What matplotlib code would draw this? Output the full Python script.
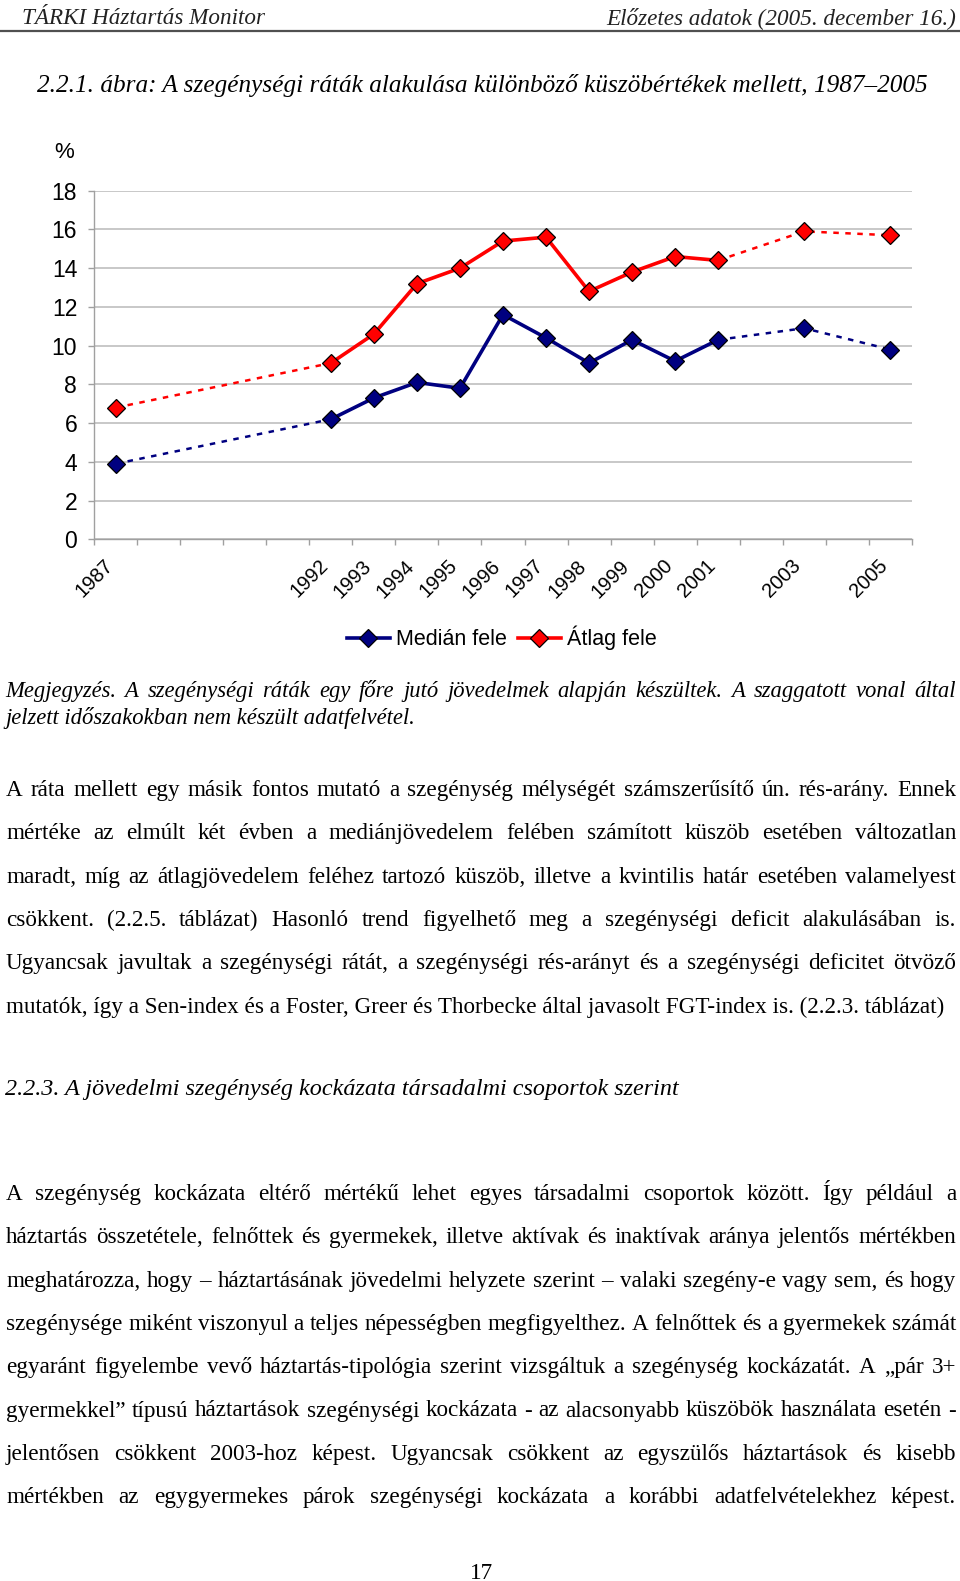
import matplotlib
matplotlib.use("Agg")
import matplotlib.pyplot as plt
from matplotlib.lines import Line2D
from matplotlib.transforms import ScaledTranslation
import numpy as np

W, H, DPI = 960, 1581, 100

# ---------------- data ----------------
years = [1987, 1992, 1993, 1994, 1995, 1996, 1997, 1998, 1999, 2000, 2001, 2003, 2005]
year_labels = [str(y) for y in years]
median_half = [3.9, 6.2, 7.3, 8.1, 7.8, 11.6, 10.4, 9.1, 10.3, 9.2, 10.3, 10.9, 9.8]
mean_half = [6.8, 9.1, 10.6, 13.2, 14.0, 15.4, 15.6, 12.8, 13.8, 14.6, 14.4, 15.9, 15.7]
series_names = ["Medián fele", "Átlag fele"]
series_colors = ["#000080", "#ff0000"]
y_ticks = list(range(0, 20, 2))
solid_from, solid_to = 1992, 2001   # yearly surveys (solid line)

header_left = "TÁRKI Háztartás Monitor"
header_right = "Előzetes adatok (2005. december 16.)"
fig_title = "2.2.1. ábra: A szegénységi ráták alakulása különböző küszöbértékek mellett, 1987–2005"
note_lines = [
    "Megjegyzés. A szegénységi ráták egy főre jutó jövedelmek alapján készültek. A szaggatott vonal által",
    "jelzett időszakokban nem készült adatfelvétel.",
]
para1 = [
    "A ráta mellett egy másik fontos mutató a szegénység mélységét számszerűsítő ún. rés-arány. Ennek",
    "mértéke az elmúlt két évben a mediánjövedelem felében számított küszöb esetében változatlan",
    "maradt, míg az átlagjövedelem feléhez tartozó küszöb, illetve a kvintilis határ esetében valamelyest",
    "csökkent. (2.2.5. táblázat) Hasonló trend figyelhető meg a szegénységi deficit alakulásában is.",
    "Ugyancsak javultak a szegénységi rátát, a szegénységi rés-arányt és a szegénységi deficitet ötvöző",
    "mutatók, így a Sen-index és a Foster, Greer és Thorbecke által javasolt FGT-index is. (2.2.3. táblázat)",
]
section_title = "2.2.3. A jövedelmi szegénység kockázata társadalmi csoportok szerint"
para2 = [
    "A szegénység kockázata eltérő mértékű lehet egyes társadalmi csoportok között. Így például a",
    "háztartás összetétele, felnőttek és gyermekek, illetve aktívak és inaktívak aránya jelentős mértékben",
    "meghatározza, hogy – háztartásának jövedelmi helyzete szerint – valaki szegény-e vagy sem, és hogy",
    "szegénysége miként viszonyul a teljes népességben megfigyelthez. A felnőttek és a gyermekek számát",
    "egyaránt figyelembe vevő háztartás-tipológia szerint vizsgáltuk a szegénység kockázatát. A „pár 3+",
    "gyermekkel” típusú háztartások szegénységi kockázata - az alacsonyabb küszöbök használata esetén -",
    "jelentősen csökkent 2003-hoz képest. Ugyancsak csökkent az egyszülős háztartások és kisebb",
    "mértékben az egygyermekes párok szegénységi kockázata a korábbi adatfelvételekhez képest.",
]
page_number = "17"

# ---------------- figure ----------------
fig = plt.figure(figsize=(W / DPI, H / DPI), dpi=DPI)
fig.patch.set_facecolor("white")
renderer = fig.canvas.get_renderer()


def fx(x):
    return x / W


def fy(y):
    return 1 - y / H


def measure(s, **kw):
    t = fig.text(0, 0, s, **kw)
    w = t.get_window_extent(renderer=renderer).width
    t.remove()
    return w


def fit(s, target, **kw):
    return 20.0 * target / measure(s, fontsize=20, **kw)


def put(s, x0, y, x1=None, justify=False, ha="left", **kw):
    if justify:
        words = s.split(" ")
        ws = [measure(w, **kw) for w in words]
        gap = (x1 - x0 - sum(ws)) / (len(words) - 1)
        x = x0
        for w, wd in zip(words, ws):
            fig.text(fx(x), fy(y), w, ha="left", va="baseline", **kw)
            x += wd + gap
    else:
        fig.text(fx(x0), fy(y), s, ha=ha, va="baseline", **kw)


SERIF = "Liberation Serif"
SANS = "Liberation Sans"

# header
hs = fit(header_left, 243, family=SERIF, style="italic")
put(header_left, 22, 24, family=SERIF, style="italic", fontsize=hs, color="#222222")
put(header_right, 956, 24, ha="right", family=SERIF, style="italic", fontsize=hs, color="#222222")
fig.add_artist(Line2D([0, 1], [fy(30.5), fy(30.5)], transform=fig.transFigure,
                      color="#505050", lw=1.6))

# figure title
ts = fit(fig_title, 889, family=SERIF, style="italic")
put(fig_title, 37, 92, family=SERIF, style="italic", fontsize=ts)

# ---------------- chart ----------------
ax_l, ax_r, ax_t, ax_b = 94.3, 911.7, 190.7, 539.3
ax = fig.add_axes([fx(ax_l), fy(ax_b), (ax_r - ax_l) / W, (ax_b - ax_t) / H])
ax.set_xlim(1986.5, 2005.5)
ax.set_ylim(0, 18)

i0 = years.index(solid_from)
i1 = years.index(solid_to)
dash = (0, (2.2, 2.6))
handles = []
for vals, col in zip([median_half, mean_half], series_colors):
    ax.plot(years[:i0 + 1], vals[:i0 + 1], color=col, lw=1.8, linestyle=dash, zorder=3)
    ax.plot(years[i1:], vals[i1:], color=col, lw=1.8, linestyle=dash, zorder=3)
    ax.plot(years[i0:i1 + 1], vals[i0:i1 + 1], color=col, lw=2.6, zorder=3,
            solid_joinstyle="round")
    ax.plot(years, vals, linestyle="none", marker="D", ms=9, mfc=col, mec="black",
            mew=0.9, zorder=5)
    handles.append(Line2D([], [], color=col, lw=2.6, marker="D", ms=9, mfc=col,
                          mec="black", mew=0.9))

ax.set_yticks(y_ticks)
ax.grid(axis="y", color="#c4c4c4", lw=1.3)
ax.set_axisbelow(True)
ax.set_xticks(years)
ax.set_xticks(np.arange(1986.5, 2006, 1.0), minor=True)
ax.tick_params(axis="x", which="major", length=0, pad=17)
ax.tick_params(axis="x", which="minor", length=4.5, width=1.0, color="#a0a0a0",
               direction="out")
ax.tick_params(axis="y", length=4.3, width=1.0, color="#a0a0a0", pad=8,
               labelsize=16.5)
ax.set_xticklabels(year_labels, rotation=45, ha="right", va="center",
                   rotation_mode="anchor", family=SANS, fontsize=14.5)
shift = ScaledTranslation(-6 / DPI, 0, fig.dpi_scale_trans)
for lab in ax.get_xticklabels():
    lab.set_transform(lab.get_transform() + shift)
for lab in ax.get_yticklabels():
    lab.set_family(SANS)
for side in ["top", "right"]:
    ax.spines[side].set_visible(False)
for side in ["left", "bottom"]:
    ax.spines[side].set_color("#a0a0a0")
    ax.spines[side].set_linewidth(1.0)

fig.text(fx(64), fy(152), "%", ha="center", va="center", family=SANS, fontsize=16)

ax.legend(handles, series_names, loc="center", bbox_to_anchor=(fx(502), fy(638)),
          bbox_transform=fig.transFigure, ncol=2, frameon=False,
          prop={"family": SANS, "size": 15.5}, handlelength=2.0,
          handletextpad=0.3, columnspacing=0.5, borderaxespad=0)

# ---------------- notes ----------------
ns = fit(note_lines[1], 410, family=SERIF, style="italic")
put(note_lines[0], 5, 697, x1=956, justify=True, family=SERIF, style="italic", fontsize=ns)
put(note_lines[1], 5, 724, family=SERIF, style="italic", fontsize=ns)

# ---------------- body text ----------------
bs = fit(para1[-1], 940, family=SERIF)
step = 43.3
for k, s in enumerate(para1):
    last = k == len(para1) - 1
    put(s, 6, 796 + k * step, x1=956, justify=not last, family=SERIF, fontsize=bs)

ss = fit(section_title, 674, family=SERIF, style="italic")
put(section_title, 5, 1095, family=SERIF, style="italic", fontsize=ss)

for k, s in enumerate(para2):
    put(s, 6, 1200 + k * step, x1=956, justify=True, family=SERIF, fontsize=bs)

put(page_number, 482, 1579, ha="center", family=SERIF, fontsize=bs)

fig.savefig("out.png", dpi=DPI, facecolor="white")
